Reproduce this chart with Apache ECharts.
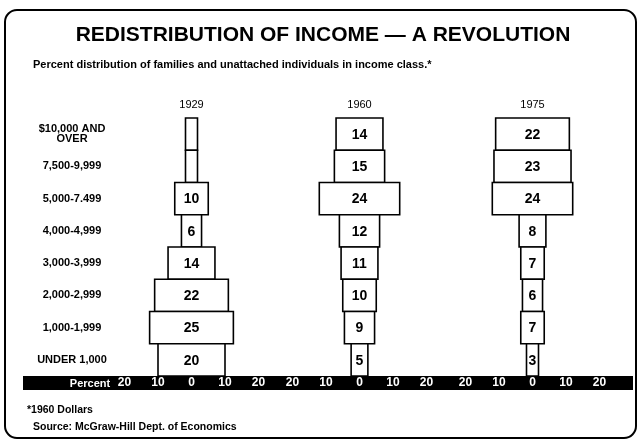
<!DOCTYPE html>
<html>
<head>
<meta charset="utf-8">
<script src="https://cdn.jsdelivr.net/npm/echarts@6/dist/echarts.min.js"></script>
<style>
  html, body { margin: 0; padding: 0; background: #fff; }
  #chart { width: 639px; height: 440px; }
</style>
</head>
<body>
<div id="chart"></div>
<script>
// income classes, top to bottom
const incomeClasses = ['$10,000 AND\nOVER', '7,500-9,999', '5,000-7.499', '4,000-4,999',
  '3,000-3,999', '2,000-2,999', '1,000-1,999', 'UNDER 1,000']
const years = ['1929', '1960', '1975']
// percent of families per class
const values1929 = [2, 1, 10, 6, 14, 22, 25, 20]
const values1960 = [14, 15, 24, 12, 11, 10, 9, 5]
const values1975 = [22, 23, 24, 8, 7, 6, 7, 3]
// rows left without a number in the original
const unlabeled1929 = [0, 1]
const tickValues = [-20, -10, 0, 10, 20]

const chart = echarts.init(document.getElementById('chart'))
const FONT = '"Liberation Sans Narrow", "Liberation Sans", Arial, sans-serif'
const WIDE = '"Liberation Sans", Arial, sans-serif'

// centre x of each panel, px per percent
const centers = [191.5, 359.5, 532.5]
const pxPerUnit = 3.35
const halfRange = 30

function makeRender(skip) {
  return function (params, api) {
    const v = api.value(0)
    const c = api.value(1)
    const l = api.coord([-v / 2, c])
    const r = api.coord([v / 2, c])
    const h = api.size([0, 1])[1]
    const w = Math.max(r[0] - l[0], 12)
    const cx = (l[0] + r[0]) / 2
    const children = [{
      type: 'rect',
      shape: { x: cx - w / 2, y: l[1] - h / 2, width: w, height: h },
      style: { fill: '#fff', stroke: '#000', lineWidth: 1.6 }
    }]
    if (skip.indexOf(c) < 0) {
      children.push({
        type: 'text',
        x: cx,
        y: l[1] + 1,
        style: {
          text: String(v),
          align: 'center',
          verticalAlign: 'middle',
          font: 'bold 14px ' + FONT,
          fill: '#000'
        }
      })
    }
    return { type: 'group', children: children }
  }
}

const seriesValues = [values1929, values1960, values1975]
const grids = centers.map(cx => ({
  left: cx - halfRange * pxPerUnit,
  width: 2 * halfRange * pxPerUnit,
  top: 118,
  bottom: 64
}))

const xAxes = centers.map((cx, i) => ({
  type: 'value',
  gridIndex: i,
  min: -halfRange,
  max: halfRange,
  interval: 10,
  z: 10,
  axisLine: { show: false },
  axisTick: { show: false },
  splitLine: { show: false },
  axisLabel: {
    margin: 1,
    color: '#fff',
    fontFamily: FONT,
    fontWeight: 'bold',
    fontSize: 12,
    formatter: v => (tickValues.indexOf(v) >= 0 ? String(Math.abs(v)) : '')
  }
}))

const yAxes = centers.map((cx, i) => ({
  type: 'category',
  gridIndex: i,
  data: incomeClasses,
  inverse: true,
  axisLine: { show: false },
  axisTick: { show: false },
  splitLine: { show: false },
  axisLabel: {
    show: i === 0,
    margin: grids[0].left - 72,
    align: 'center',
    color: '#000',
    fontFamily: WIDE,
    fontWeight: 'bold',
    fontSize: 11,
    lineHeight: 10
  }
}))

const series = seriesValues.map((vals, i) => ({
  type: 'custom',
  xAxisIndex: i,
  yAxisIndex: i,
  renderItem: makeRender(i === 0 ? unlabeled1929 : []),
  encode: { x: 0, y: 1 },
  data: vals.map((v, k) => [v, k])
}))

const option = {
  animation: false,
  backgroundColor: '#fff',
  grid: grids,
  xAxis: xAxes,
  yAxis: yAxes,
  series: series,
  graphic: [
    {
      type: 'rect',
      z: -1,
      shape: { x: 5, y: 10, width: 631, height: 428, r: 12 },
      style: { fill: 'none', stroke: '#000', lineWidth: 2 }
    },
    {
      type: 'rect',
      z: -1,
      shape: { x: 23, y: 376, width: 610, height: 14 },
      style: { fill: '#000' }
    },
    {
      type: 'text',
      x: 90, y: 383.5,
      style: { text: 'Percent', align: 'center', verticalAlign: 'middle',
        font: 'bold 11px ' + FONT, fill: '#fff' }
    },
    {
      type: 'text',
      x: 323, y: 35,
      style: { text: 'REDISTRIBUTION OF INCOME \u2014 A REVOLUTION', align: 'center',
        verticalAlign: 'middle', font: 'bold 21px ' + WIDE, fill: '#000' }
    },
    {
      type: 'text',
      x: 33, y: 65,
      style: { text: 'Percent distribution of families and unattached individuals in income class.*',
        align: 'left', verticalAlign: 'middle', font: 'bold 11px ' + FONT, fill: '#000' }
    },
    ...years.map((y, i) => ({
      type: 'text',
      x: centers[i], y: 105,
      style: { text: y, align: 'center', verticalAlign: 'middle',
        font: '11px ' + WIDE, fill: '#000' }
    })),
    {
      type: 'text',
      x: 27, y: 410,
      style: { text: '*1960 Dollars', align: 'left', verticalAlign: 'middle',
        font: 'bold 10.5px ' + FONT, fill: '#000' }
    },
    {
      type: 'text',
      x: 33, y: 427,
      style: { text: 'Source: McGraw-Hill Dept. of Economics', align: 'left', verticalAlign: 'middle',
        font: 'bold 10.5px ' + FONT, fill: '#000' }
    }
  ]
}

chart.setOption(option)
</script>
</body>
</html>
